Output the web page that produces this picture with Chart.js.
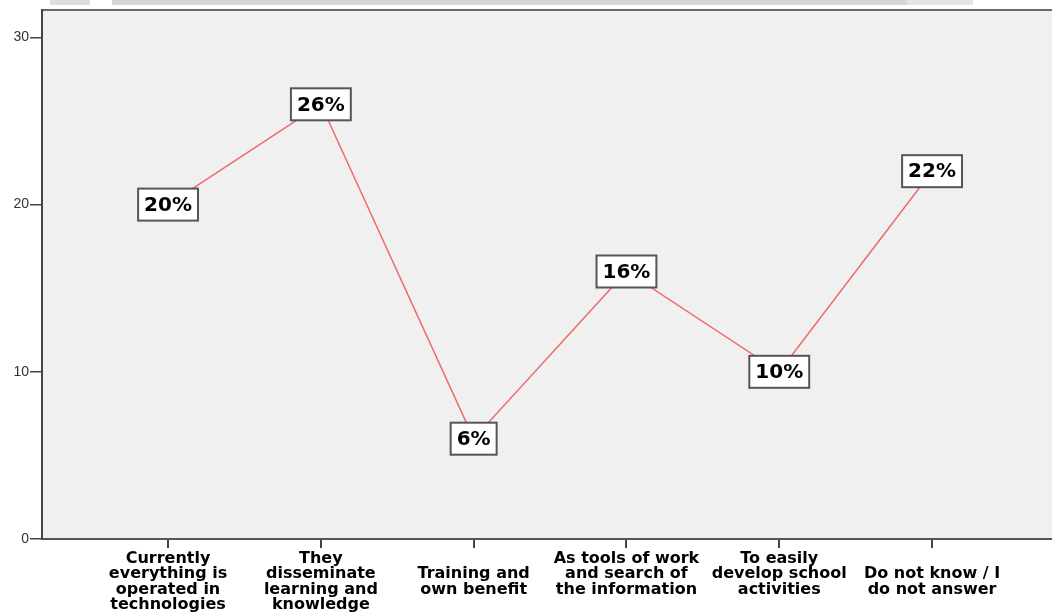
<!DOCTYPE html>
<html>
<head>
<meta charset="utf-8">
<script src="https://cdn.jsdelivr.net/npm/chart.js@4/dist/chart.umd.min.js"></script>
<style>
    body { margin: 0; background: #ffffff; }
    #wrap { width: 1052px; height: 616px; position: relative; }
</style>
</head>
<body>
<div id="wrap"><canvas id="lineChart"></canvas></div>
<script>
// Categories (lines padded so they sit like the original labels)
const categories = [
    ['Currently', 'everything is', 'operated in', 'technologies'],
    ['They', 'disseminate', 'learning and', 'knowledge'],
    ['', 'Training and', 'own benefit', ''],
    ['As tools of work', 'and search of', 'the information', ''],
    ['To easily', 'develop school', 'activities', ''],
    ['', 'Do not know / I', 'do not answer', '']
];
const percentValues = [20, 26, 6, 16, 10, 22];
const yTicks = [0, 10, 20, 30];

// Gray plot background + top border
const plotBackground = {
    id: 'plotBackground',
    beforeDraw(chart) {
        const { ctx, chartArea } = chart;
        ctx.save();
        // faint strip left over from the page header
        ctx.fillStyle = '#dedede';
        ctx.fillRect(50, 0, 40, 5);
        ctx.fillStyle = '#d6d6d6';
        ctx.fillRect(112, 0, 795, 5);
        ctx.fillStyle = '#e4e4e4';
        ctx.fillRect(907, 0, 66, 5);
        ctx.fillStyle = '#f0f0f0';
        ctx.fillRect(chartArea.left, chartArea.top, chartArea.right - chartArea.left, chartArea.bottom - chartArea.top);
        ctx.strokeStyle = '#6a6a6a';
        ctx.lineWidth = 2;
        ctx.beginPath();
        ctx.moveTo(chartArea.left, chartArea.top);
        ctx.lineTo(chartArea.right, chartArea.top);
        ctx.stroke();
        ctx.restore();
    }
};

// Boxed percent labels on every point
const boxLabels = {
    id: 'boxLabels',
    afterDatasetsDraw(chart) {
        const { ctx } = chart;
        const meta = chart.getDatasetMeta(0);
        ctx.save();
        ctx.font = 'bold 20px "DejaVu Sans", sans-serif';
        ctx.textAlign = 'center';
        ctx.textBaseline = 'middle';
        meta.data.forEach((pt, i) => {
            const text = percentValues[i] + '%';
            const w = ctx.measureText(text).width + 12;
            const h = 32;
            ctx.fillStyle = '#ffffff';
            ctx.fillRect(pt.x - w / 2, pt.y - h / 2, w, h);
            ctx.strokeStyle = '#555555';
            ctx.lineWidth = 2;
            ctx.strokeRect(pt.x - w / 2, pt.y - h / 2, w, h);
            ctx.fillStyle = '#000000';
            ctx.fillText(text, pt.x, pt.y + 1);
        });
        ctx.restore();
    }
};

const ctx = document.getElementById('lineChart').getContext('2d');
new Chart(ctx, {
    type: 'line',
    data: {
        datasets: [{
            data: percentValues.map((v, i) => ({ x: i, y: v })),
            borderColor: '#f06a6a',
            borderWidth: 1.5,
            pointRadius: 0,
            tension: 0
        }]
    },
    options: {
        responsive: true,
        maintainAspectRatio: false,
        animation: false,
        layout: { padding: { top: 10, left: 0, right: 0, bottom: 0 } },
        plugins: {
            legend: { display: false },
            tooltip: { enabled: false }
        },
        scales: {
            x: {
                type: 'linear',
                min: -0.825,
                max: 5.785,
                afterBuildTicks: s => { s.ticks = categories.map((_, i) => ({ value: i })); },
                afterFit: s => { s.height = 77; },
                grid: { drawOnChartArea: false, drawTicks: true, tickLength: 9, color: '#444444', lineWidth: 2 },
                border: { display: true, color: '#555555', width: 2 },
                ticks: {
                    callback: (v) => categories[v],
                    maxRotation: 0,
                    autoSkip: false,
                    padding: 3,
                    color: '#000000',
                    font: { family: '"DejaVu Sans", sans-serif', size: 16, weight: 'bold', lineHeight: 0.97 }
                }
            },
            y: {
                min: 0,
                max: 31.64,
                afterBuildTicks: s => { s.ticks = yTicks.map(v => ({ value: v })); },
                afterFit: s => { s.width = 42; },
                grid: { drawOnChartArea: false, drawTicks: true, tickLength: 12, color: '#444444', lineWidth: 1.5 },
                border: { display: true, color: '#444444', width: 2 },
                ticks: {
                    padding: 1,
                    color: '#333333',
                    font: { family: 'Arial, "Liberation Sans", sans-serif', size: 14 }
                }
            }
        }
    },
    plugins: [plotBackground, boxLabels]
});
</script>
</body>
</html>
